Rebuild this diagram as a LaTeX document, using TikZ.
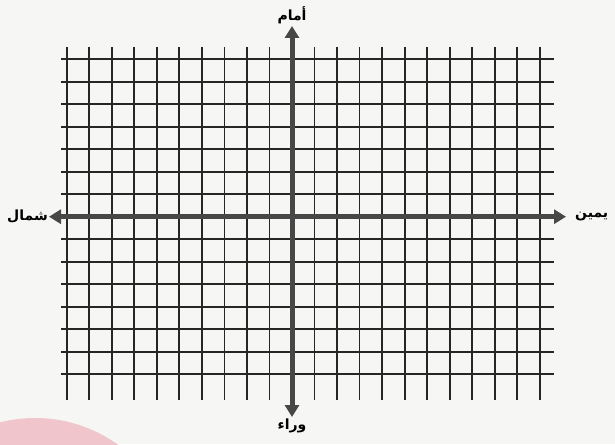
\documentclass[tikz,border=0pt]{standalone}
\usepackage{fontspec}
\newfontfamily\arabicfont[Script=Arabic]{DejaVu Sans}
\TeXXeTstate=1
\usetikzlibrary{arrows.meta}

\definecolor{paper}{HTML}{F6F7F5}
\definecolor{blush}{HTML}{F0C6CC}
\definecolor{ink}{HTML}{262626}
\definecolor{axisgray}{HTML}{474747}

\tikzset{
  gridline/.style={ink, line width=1.8pt},
  axisline/.style={axisgray, line width=5pt,
    {Triangle[width=14pt,length=12pt]}-{Triangle[width=14pt,length=12pt]}},
  dirlabel/.style={font=\arabicfont\bfseries\fontsize{14}{16}\selectfont, text=black, inner sep=1pt}
}

\begin{document}
\begin{tikzpicture}[x=1pt, y=-1pt]
    \fill[paper] (0,0) rectangle (615,444);
    \useasboundingbox (0,0) rectangle (615,444);

    % pink disc in the corner
    \begin{scope}
        \clip (0,0) rectangle (615,444);
        \fill[blush] (35,560) circle (142);
    \end{scope}

    % grid
    \foreach \i in {0,...,21}
        \draw[gridline] ({66.7+22.53*\i},47) -- ({66.7+22.53*\i},400);
    \foreach \j in {-7,...,7}
        \draw[gridline] (61,{216.7+22.5*\j}) -- (554,{216.7+22.5*\j});

    % axes
    \coordinate (front) at (292,26);
    \coordinate (back) at (292,417);
    \coordinate (left) at (49,216.7);
    \coordinate (right) at (566,216.7);

    \draw[axisline] (back) -- (front);
    \draw[axisline] (left) -- (right);

    \node[dirlabel, above=1pt] (frontlabel) at (front) {\beginR أمام\endR};
    \node[dirlabel, below=1pt] (backlabel) at (back) {\beginR وراء\endR};
    \node[dirlabel, left=0pt] (leftlabel) at (left) {\beginR شمال\endR};
    \node[dirlabel, right=8pt] (rightlabel) at (right) {\beginR يمين\endR};
\end{tikzpicture}
\end{document}
